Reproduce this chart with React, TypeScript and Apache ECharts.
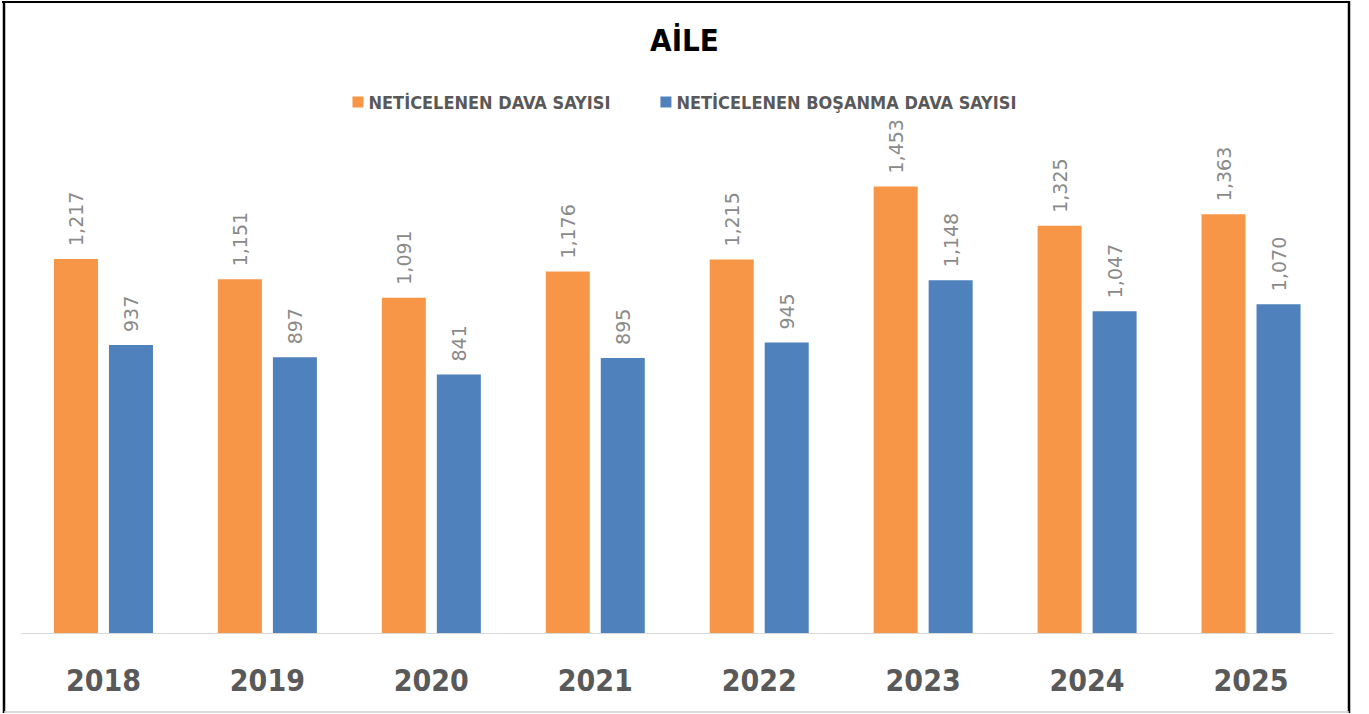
import React, { useEffect, useRef } from "react";
import * as echarts from "echarts";

const years = ["2018", "2019", "2020", "2021", "2022", "2023", "2024", "2025"];
const davaSayisi = [1217, 1151, 1091, 1176, 1215, 1453, 1325, 1363];
const bosanmaSayisi = [937, 897, 841, 895, 945, 1148, 1047, 1070];
const seriesNames = ["NETİCELENEN DAVA SAYISI", "NETİCELENEN BOŞANMA DAVA SAYISI"];
const titleText = "AİLE";

const NARROW = '"Liberation Sans Narrow", "DejaVu Sans Condensed", "Roboto Condensed", "Noto Sans", sans-serif';

export default function App() {
  const ref = useRef<HTMLDivElement>(null);
  useEffect(() => {
    document.body.style.margin = "0";
    const chart = echarts.init(ref.current!, null, { renderer: "svg" });
    const label = {
      show: true,
      position: "top" as const,
      rotate: 90,
      align: "left" as const,
      verticalAlign: "middle" as const,
      distance: 13,
      color: "#8a8a8a",
      fontFamily: "DejaVu Sans",
      fontSize: 19,
      formatter: (p: any) => Number(p.value).toLocaleString("en-US"),
    };
    chart.setOption({
      animation: false,
      backgroundColor: "#ffffff",
      title: {
        text: titleText,
        left: "center",
        top: 19,
        textStyle: { fontFamily: NARROW, fontWeight: "bold", fontSize: 31, color: "#000000" },
      },
      legend: {
        top: 88,
        left: "center",
        itemWidth: 11,
        itemHeight: 11,
        itemGap: 50,
        icon: "rect",
        textStyle: { fontFamily: NARROW, fontWeight: "bold", fontSize: 18, color: "#595959" },
        data: seriesNames,
      },
      grid: { left: 21.5, right: 36, top: 141.3, bottom: 81, containLabel: false },
      xAxis: {
        type: "category",
        data: years,
        axisLine: { show: true, lineStyle: { color: "#d9d9d9", width: 1 } },
        axisTick: { show: false },
        axisLabel: {
          margin: 32,
          fontFamily: NARROW,
          fontWeight: "bold",
          fontSize: 30,
          color: "#595959",
        },
      },
      yAxis: {
        type: "value",
        min: 0,
        max: 1600,
        show: false,
        splitLine: { show: false },
      },
      series: [
        {
          name: seriesNames[0],
          type: "bar",
          data: davaSayisi,
          barWidth: 44,
          barGap: "25%",
          itemStyle: { color: "#F79646" },
          label,
        },
        {
          name: seriesNames[1],
          type: "bar",
          data: bosanmaSayisi,
          barWidth: 44,
          barGap: "25%",
          itemStyle: { color: "#4F81BD" },
          label,
        },
      ],
      graphic: [
        { type: "line", shape: { x1: 2, y1: 2, x2: 1350, y2: 2 }, style: { stroke: "#000", lineWidth: 2 } },
        { type: "line", shape: { x1: 4, y1: 1, x2: 4, y2: 713 }, style: { stroke: "#000", lineWidth: 2.5 } },
        { type: "line", shape: { x1: 1349, y1: 1, x2: 1349, y2: 713 }, style: { stroke: "#000", lineWidth: 2.5 } },
        { type: "line", shape: { x1: 4, y1: 712, x2: 1349, y2: 712 }, style: { stroke: "#d0d0d0", lineWidth: 1.5 } },
      ],
    });
    return () => chart.dispose();
  }, []);
  return <div ref={ref} style={{ width: 1369, height: 714 }} />;
}
